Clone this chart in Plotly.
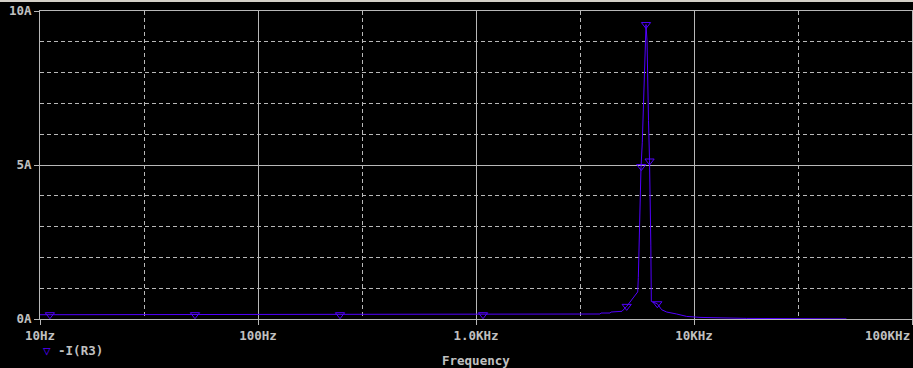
import plotly.graph_objects as go

# ---- data (frequency in Hz, current in A) ----
freq = [10, 2728, 2756, 3704, 3744, 4119, 4163, 4674, 4912, 5195,
        5518, 5554, 5595, 5654, 5714, 5793, 5855, 5917, 5980, 6024,
        6088, 6120, 6185, 6251, 6304, 6338, 6371, 6555, 6787, 7110,
        7496, 8328, 9258, 10654, 17450, 50000]
current = [0.139, 0.139, 0.162, 0.162, 0.194, 0.194, 0.226, 0.25, 0.41, 0.65,
           0.88, 1.34, 2.35, 3.53, 4.92, 5.74, 6.87, 8.00, 9.03, 9.56,
           9.03, 7.74, 6.44, 5.15, 3.96, 2.40, 0.57, 0.53, 0.495, 0.30,
           0.226, 0.162, 0.084, 0.052, 0.019, 0.003]

marker_freq = [11.1, 51.4, 237.8, 1077, 4912, 5730, 6024, 6255, 6787]
marker_current = [0.139, 0.139, 0.139, 0.139, 0.41, 4.95, 9.56, 5.13, 0.495]

x_tick_vals = [10, 100, 1000, 10000, 100000]
x_tick_text = ["10Hz", "100Hz", "1.0KHz", "10KHz", "100KHz"]
x_minor_vals = [30, 300, 3000, 30000]
y_tick_vals = [0, 5, 10]
y_tick_text = ["0A", "5A", "10A"]
y_minor_vals = [1, 2, 3, 4, 6, 7, 8, 9]

series_name = "-I(R3)"
x_title = "Frequency"

TRACE = "#5200ff"
GRID = "#b8b8b8"
TEXT = "#c0c0c0"
FONT = dict(family="DejaVu Sans Mono", size=12.5, color=TEXT, weight="bold")

fig = go.Figure()
fig.add_trace(go.Scatter(x=freq, y=current, mode="lines",
                         line=dict(color=TRACE, width=1), showlegend=False,
                         hoverinfo="skip"))
fig.add_trace(go.Scatter(x=marker_freq, y=marker_current, mode="markers",
                         marker=dict(symbol="triangle-down-open", size=8,
                                     color=TRACE, line=dict(width=1, color=TRACE)),
                         name=series_name, showlegend=False))

fig.update_layout(
    width=913, height=368,
    margin=dict(l=40, r=1, t=11, b=49, autoexpand=False),
    paper_bgcolor="black", plot_bgcolor="black",
    font=FONT,
    xaxis=dict(
        type="log", range=[1, 5], automargin=False,
        tickmode="array", tickvals=x_tick_vals,
        ticktext=x_tick_text[:-1] + [""],
        ticks="outside", ticklen=5, tickwidth=1, tickcolor=GRID,
        showgrid=True, gridcolor=GRID, gridwidth=1,
        showline=True, linecolor=GRID, linewidth=1, mirror=True,
        zeroline=False,
        minor=dict(tickmode="array", tickvals=x_minor_vals, ticks="",
                   showgrid=True, gridcolor=GRID, gridwidth=1,
                   griddash="4px,3px"),
        tickfont=FONT,
    ),
    yaxis=dict(
        range=[0, 10], automargin=False,
        tickmode="array", tickvals=y_tick_vals, ticktext=y_tick_text,
        ticks="outside", ticklen=5, tickwidth=1, tickcolor=GRID,
        showgrid=True, gridcolor=GRID, gridwidth=1,
        showline=True, linecolor=GRID, linewidth=1, mirror=True,
        zeroline=False,
        minor=dict(tickmode="array", tickvals=y_minor_vals, ticks="",
                   showgrid=True, gridcolor=GRID, gridwidth=1,
                   griddash="4px,3px"),
        tickfont=FONT,
    ),
    annotations=[
        dict(x=5, y=0, xref="x", yref="paper", text=x_tick_text[-1],
             xanchor="right", yanchor="top", yshift=-7, showarrow=False,
             font=FONT),
        dict(x=(41 - 40) / 872, y=0, xref="paper", yref="paper",
             text=f"<span style='color:{TRACE}'>\u25bd</span> {series_name}",
             xanchor="left", yanchor="middle", yshift=-31, showarrow=False,
             font=FONT),
        dict(x=0.5, y=0, xref="paper", yref="paper", text=x_title,
             xanchor="center", yanchor="top", yshift=-32, showarrow=False,
             font=FONT),
    ],
    shapes=[
        dict(type="rect", xref="paper", yref="paper", x0=-0.1, x1=1.1,
             y0=1 + 9 / 308, y1=1 + 12 / 308, fillcolor="#d4d0c8",
             line=dict(width=0), layer="above"),
    ],
)

fig.write_html("out.html")
